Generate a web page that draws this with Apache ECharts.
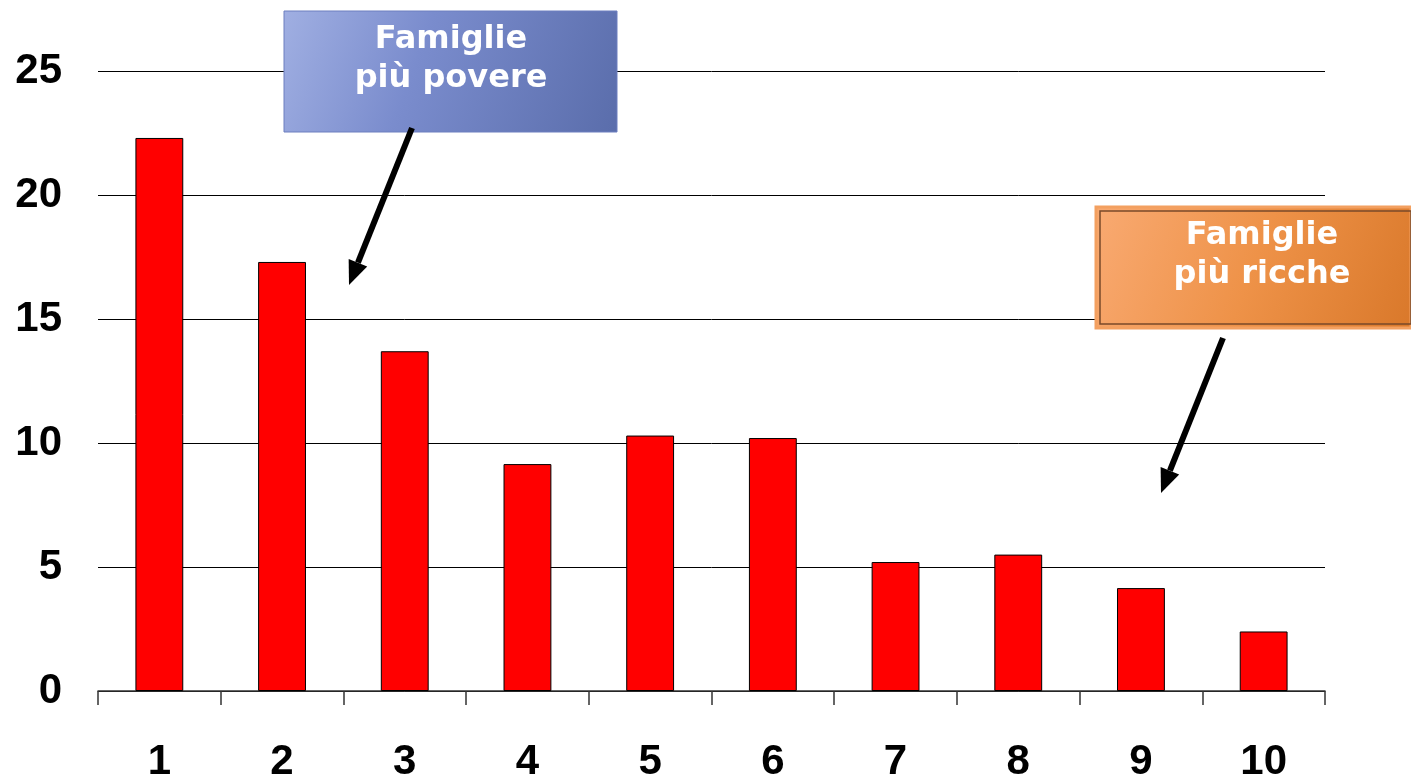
<!DOCTYPE html>
<html><head><meta charset="utf-8">
<script src="https://cdn.jsdelivr.net/npm/echarts@6/dist/echarts.min.js"></script>
<style>html,body{margin:0;padding:0;background:#fff}#c{width:1411px;height:779px}</style>
</head><body><div id="c"></div>
<script>
const categories = ['1','2','3','4','5','6','7','8','9','10'];
const values = [22.3, 17.3, 13.7, 9.15, 10.3, 10.2, 5.2, 5.5, 4.15, 2.4];
const yTicks = [0, 5, 10, 15, 20, 25];
const boxPoorText = 'Famiglie\npiù povere';
const boxRichText = 'Famiglie\npiù ricche';

function arrow(x1,y1,x2,y2){
  const dx=x2-x1, dy=y2-y1, L=Math.hypot(dx,dy), ux=dx/L, uy=dy/L;
  const hl=24, hw=10;
  const bx=x2-hl*ux, by=y2-hl*uy, px=-uy, py=ux;
  return [
    {type:'line',shape:{x1:x1,y1:y1,x2:bx,y2:by},style:{stroke:'#000',lineWidth:6},z:10},
    {type:'polygon',shape:{points:[[x2,y2],[bx+hw*px,by+hw*py],[bx-hw*px,by-hw*py]]},style:{fill:'#000'},z:10}
  ];
}

const chart = echarts.init(document.getElementById('c'));
chart.setOption({
  animation:false,
  grid:{left:98,right:86,top:71,bottom:88,containLabel:false,outerBoundsMode:'none'},
  xAxis:{type:'category',data:categories,
    axisLine:{lineStyle:{color:'#333',width:1.5}},
    axisTick:{show:true,inside:false,length:14,lineStyle:{color:'#333',width:1.5}},
    axisLabel:{margin:50,fontSize:42,fontWeight:'bold',color:'#000',fontFamily:'Liberation Sans, Arial, sans-serif'}},
  yAxis:{type:'value',min:0,max:25,interval:5,
    axisLine:{show:false},axisTick:{show:false},
    splitLine:{lineStyle:{color:'#000',width:1}},
    axisLabel:{margin:36,fontSize:42,fontWeight:'bold',color:'#000',fontFamily:'Liberation Sans, Arial, sans-serif',
      formatter:function(v){return yTicks.indexOf(v)>=0?String(v):'';}}},
  series:[{type:'bar',data:values,barWidth:'39%',
    itemStyle:{color:'#ff0000',borderColor:'#000',borderWidth:1}}],
  graphic:[
    {type:'rect',shape:{x:284,y:11,width:333,height:121},
      style:{fill:new echarts.graphic.LinearGradient(0,0,1,1,[{offset:0,color:'#a0afe2'},{offset:0.4,color:'#7a8ccd'},{offset:1,color:'#5a6dab'}]),stroke:'#6d7fbf',lineWidth:1},z:5},
    {type:'text',x:451,y:20,z:6,style:{text:boxPoorText,align:'center',verticalAlign:'top',fill:'#fff',font:'bold 32px "DejaVu Sans", Verdana, sans-serif',lineHeight:39}},
    {type:'rect',shape:{x:1096,y:207,width:315,height:121},
      style:{fill:new echarts.graphic.LinearGradient(0,0,1,1,[{offset:0,color:'#f9aa72'},{offset:0.5,color:'#ee9248'},{offset:1,color:'#d9782a'}]),stroke:'#f3a060',lineWidth:3},z:5},
    {type:'rect',shape:{x:1100,y:211,width:311,height:113},style:{fill:'none',stroke:'#7a4a2a',lineWidth:1.5},z:6},
    {type:'text',x:1262,y:216,z:7,style:{text:boxRichText,align:'center',verticalAlign:'top',fill:'#fff',font:'bold 32px "DejaVu Sans", Verdana, sans-serif',lineHeight:39}},
    ...arrow(412,128,349,285),
    ...arrow(1223,338,1161,493)
  ]
});
</script></body></html>
